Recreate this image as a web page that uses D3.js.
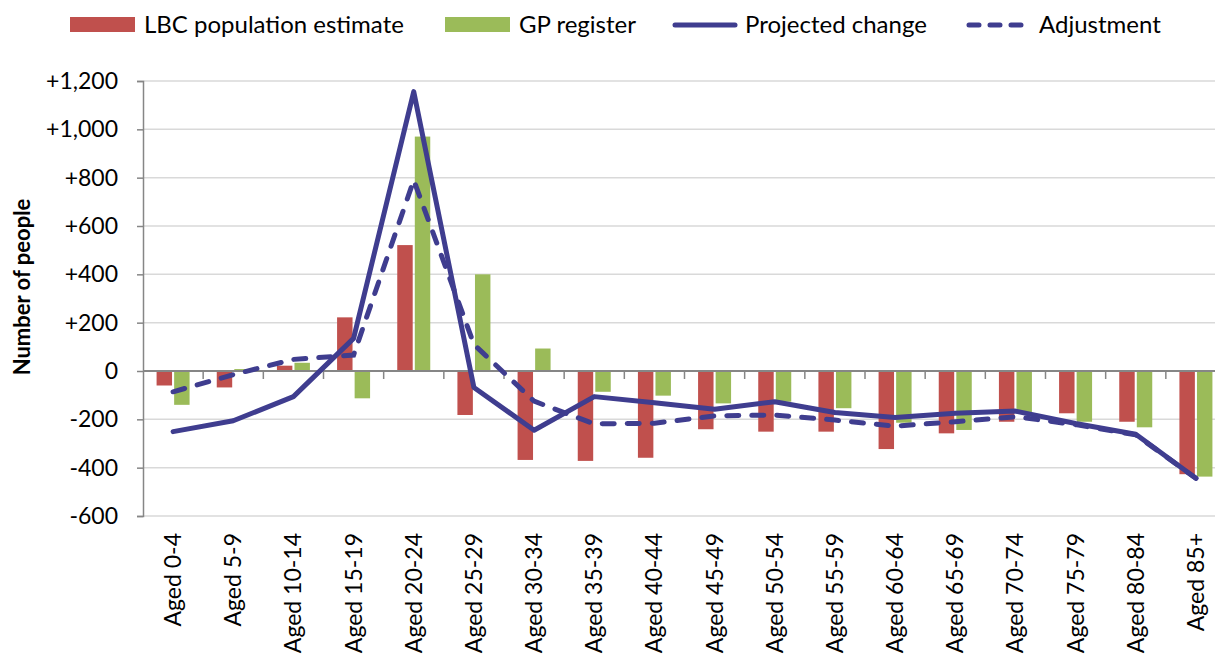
<!doctype html>
<html>
  <head>
    <meta charset="utf-8">
    <title>Projected change by age</title>
    <script src="https://cdnjs.cloudflare.com/ajax/libs/d3/7.8.5/d3.min.js"></script>
    <style>
    body {
      margin: 0;
      background: #fff;
      font-family: 'Lato', 'Open Sans', sans-serif;
    }
    svg { display: block; }
    </style>
  </head>
  <body>
    <div id="chart"></div>
    <script>

      // data
      const ageGroups = ['Aged 0-4', 'Aged 5-9', 'Aged 10-14', 'Aged 15-19', 'Aged 20-24', 'Aged 25-29',
        'Aged 30-34', 'Aged 35-39', 'Aged 40-44', 'Aged 45-49', 'Aged 50-54', 'Aged 55-59',
        'Aged 60-64', 'Aged 65-69', 'Aged 70-74', 'Aged 75-79', 'Aged 80-84', 'Aged 85+'];
      const lbcEstimate = [-60, -68, 22, 222, 521, -182, -368, -372, -359, -241, -251, -251, -323, -258, -210, -175, -210, -427];
      const gpRegister = [-140, 8, 34, -113, 970, 400, 93, -86, -102, -134, -127, -154, -214, -244, -170, -210, -233, -437];
      const projectedChange = [-251, -206, -106, 135, 1156, -68, -245, -106, -131, -158, -127, -172, -192, -175, -166, -217, -262, -444];
      const adjustment = [-86, -15, 48, 66, 790, 110, -125, -219, -216, -186, -182, -203, -228, -210, -189, -222, -264, -444];
      const yTicks = [-600, -400, -200, 0, 200, 400, 600, 800, 1000, 1200];

      const width = 1215, height = 655;
      const red = '#C0504D', green = '#9BBB59', navy = '#3F3D8F';
      const fmt = d3.format(',');

      const svg = d3.select('#chart').append('svg')
        .attr('width', width)
        .attr('height', height);

      const x = d3.scaleBand().domain(ageGroups).range([143, 1226]);
      const x1 = d3.scaleBand().domain(['lbc', 'gp']).range([-16.5, 16.5]).paddingInner(0.12);
      const y = d3.scaleLinear().domain([-600, 1200]).range([516, 81]);
      const cx = d => x(d) + x.bandwidth() / 2;

      // gridlines
      svg.append('g')
        .selectAll('line')
        .data(yTicks.filter(d => d !== 0))
        .join('line')
        .attr('x1', x.range()[0]).attr('x2', x.range()[1])
        .attr('y1', d => y(d)).attr('y2', d => y(d))
        .attr('stroke', '#D9D9D9').attr('stroke-width', 1.5);

      // bars
      const bars = svg.append('g');
      bars.selectAll('rect.lbc')
        .data(lbcEstimate)
        .join('rect')
        .attr('class', 'lbc')
        .attr('x', (d, i) => cx(ageGroups[i]) + x1('lbc'))
        .attr('width', x1.bandwidth())
        .attr('y', d => y(Math.max(0, d)))
        .attr('height', d => Math.abs(y(d) - y(0)))
        .attr('fill', red);
      bars.selectAll('rect.gp')
        .data(gpRegister)
        .join('rect')
        .attr('class', 'gp')
        .attr('x', (d, i) => cx(ageGroups[i]) + x1('gp'))
        .attr('width', x1.bandwidth())
        .attr('y', d => y(Math.max(0, d)))
        .attr('height', d => Math.abs(y(d) - y(0)))
        .attr('fill', green);

      // y axis
      const yAxis = svg.append('g')
        .attr('transform', 'translate(143,0)')
        .call(d3.axisLeft(y).tickValues(yTicks).tickSize(6).tickPadding(19)
          .tickFormat(d => d > 0 ? '+' + fmt(d) : d < 0 ? '-' + fmt(-d) : '0'));
      yAxis.select('.domain').attr('stroke', '#868686').attr('stroke-width', 1.5);
      yAxis.selectAll('.tick line').attr('stroke', '#868686').attr('stroke-width', 1.5);
      yAxis.selectAll('.tick text')
        .attr('fill', '#000')
        .style('font-family', 'Lato')
        .style('font-size', '23px');

      // zero line with category ticks
      svg.append('line')
        .attr('x1', x.range()[0]).attr('x2', x.range()[1])
        .attr('y1', y(0)).attr('y2', y(0))
        .attr('stroke', '#868686').attr('stroke-width', 2);
      svg.append('g')
        .selectAll('line')
        .data(ageGroups.slice(1))
        .join('line')
        .attr('x1', d => x(d)).attr('x2', d => x(d))
        .attr('y1', y(0)).attr('y2', y(0) + 8)
        .attr('stroke', '#868686').attr('stroke-width', 1.5);

      // category labels
      svg.append('g')
        .selectAll('text')
        .data(ageGroups)
        .join('text')
        .attr('transform', d => `translate(${cx(d)},533) rotate(-90)`)
        .attr('dy', '0.35em')
        .attr('text-anchor', 'end')
        .style('font-size', '23px')
        .text(d => d);

      // lines
      const line = d3.line()
        .x((d, i) => cx(ageGroups[i]))
        .y(d => y(d));
      svg.append('path')
        .datum(adjustment)
        .attr('d', line)
        .attr('fill', 'none')
        .attr('stroke', navy)
        .attr('stroke-width', 5)
        .attr('stroke-linecap', 'round')
        .attr('stroke-dasharray', '12,13');
      svg.append('path')
        .datum(projectedChange)
        .attr('d', line)
        .attr('fill', 'none')
        .attr('stroke', navy)
        .attr('stroke-width', 5)
        .attr('stroke-linejoin', 'round')
        .attr('stroke-linecap', 'round');

      // y axis title
      svg.append('text')
        .attr('transform', 'translate(22,287) rotate(-90)')
        .attr('dy', '0.35em')
        .attr('text-anchor', 'middle')
        .style('font-size', '22px')
        .style('font-weight', 'bold')
        .text('Number of people');

      // legend
      const legendItems = [
        { name: 'LBC population estimate', type: 'bar', color: red, x: 70 },
        { name: 'GP register', type: 'bar', color: green, x: 445 },
        { name: 'Projected change', type: 'line', dash: null, x: 672 },
        { name: 'Adjustment', type: 'line', dash: '10,11', x: 966 }
      ];
      const legend = svg.append('g').selectAll('g')
        .data(legendItems)
        .join('g')
        .attr('transform', d => `translate(${d.x},25)`);
      legend.filter(d => d.type === 'bar')
        .append('rect')
        .attr('x', 0).attr('y', -8).attr('width', 65).attr('height', 15)
        .attr('fill', d => d.color);
      legend.filter(d => d.type === 'line')
        .append('line')
        .attr('x1', 3).attr('x2', 63).attr('y1', 0).attr('y2', 0)
        .attr('stroke', navy).attr('stroke-width', 5)
        .attr('stroke-linecap', 'round')
        .attr('stroke-dasharray', d => d.dash);
      legend.append('text')
        .attr('x', d => d.type === 'bar' ? 74 : 73)
        .attr('dy', '0.35em')
        .style('font-size', '24px')
        .text(d => d.name);

    </script>
  </body>
</html>
